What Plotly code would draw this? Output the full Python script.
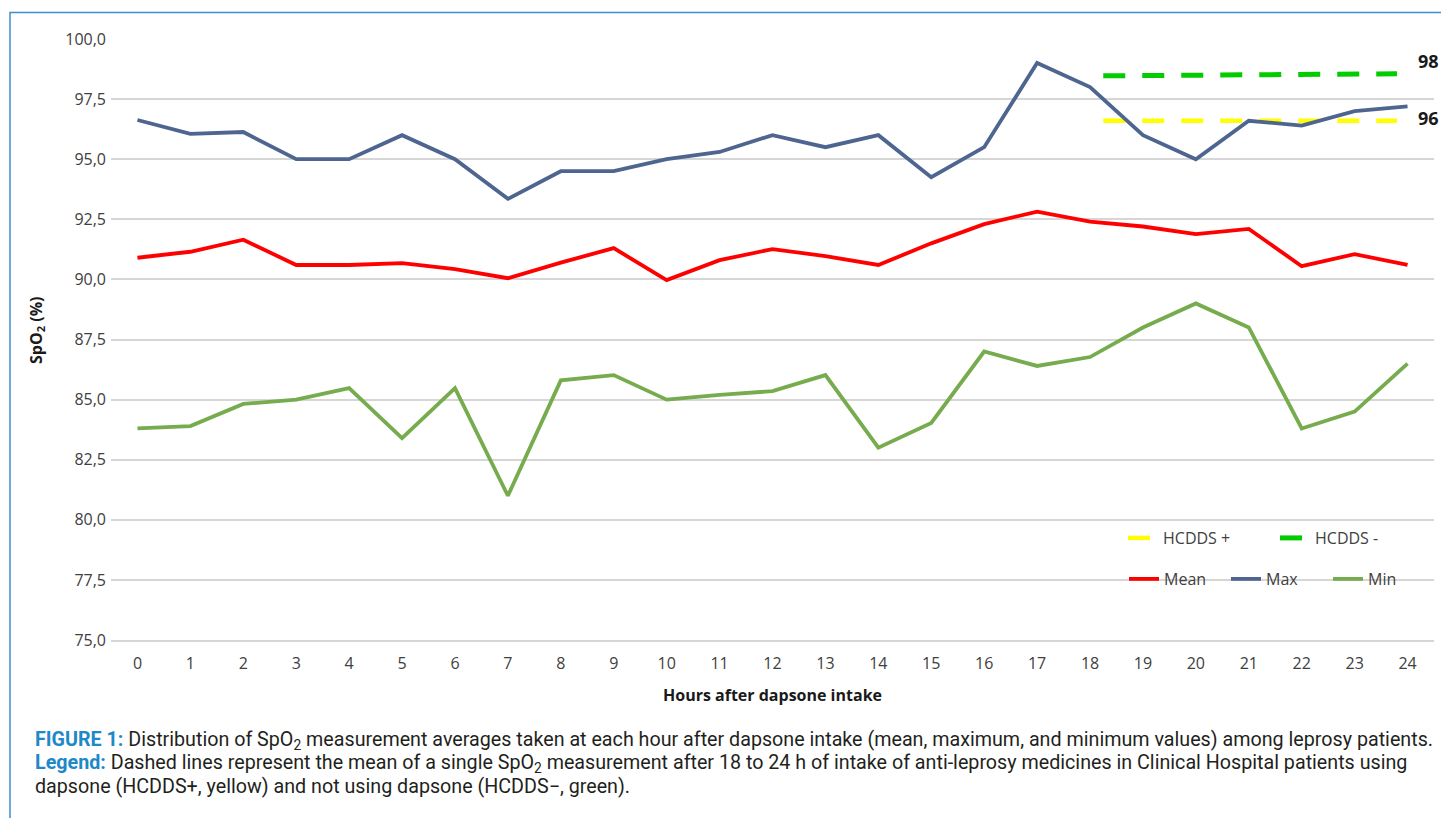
import plotly.graph_objects as go

# ---------------- data ----------------
hours = list(range(25))
max_vals = [96.63, 96.05, 96.13, 95.0, 95.0, 96.0, 95.0, 93.35, 94.5, 94.5, 95.0, 95.3, 96.0,
            95.5, 96.0, 94.25, 95.5, 99.0, 98.0, 96.0, 95.0, 96.6, 96.4, 97.0, 97.2]
mean_vals = [90.9, 91.15, 91.65, 90.6, 90.6, 90.68, 90.43, 90.05, 90.7, 91.3, 89.97, 90.8, 91.26,
             90.97, 90.6, 91.5, 92.3, 92.82, 92.4, 92.2, 91.88, 92.1, 90.55, 91.05, 90.6]
min_vals = [83.8, 83.9, 84.82, 85.0, 85.48, 83.4, 85.48, 81.0, 85.8, 86.02, 85.0, 85.2, 85.35,
            86.02, 83.0, 84.03, 87.0, 86.4, 86.77, 88.0, 89.0, 88.0, 83.8, 84.5, 86.5]

hcdds_x = [18.25, 23.8]
hcdds_pos = [96.6, 96.6]     # HCDDS + (yellow)
hcdds_neg = [98.47, 98.55]   # HCDDS - (green)
hcdds_pos_label = "96"
hcdds_neg_label = "98"

y_ticks = [75 + 2.5 * i for i in range(11)]

FONT = "Open Sans, Noto Sans, DejaVu Sans, sans-serif"
CAP_FONT = "Roboto, Open Sans, sans-serif"
TXT = "#404040"
GRID = "#d6d6d6"

fig = go.Figure()

fig.add_trace(go.Scatter(x=hcdds_x, y=hcdds_pos, mode="lines", name="HCDDS +",
                         line=dict(color="#ffff00", width=4.5, dash="22px,17px"), legend="legend"))
fig.add_trace(go.Scatter(x=hcdds_x, y=hcdds_neg, mode="lines", name="HCDDS -",
                         line=dict(color="#00cc00", width=5, dash="22px,17px"), legend="legend"))
fig.add_trace(go.Scatter(x=hours, y=mean_vals, mode="lines", name="Mean",
                         line=dict(color="#ff0000", width=3.8), legend="legend2"))
fig.add_trace(go.Scatter(x=hours, y=max_vals, mode="lines", name="Max",
                         line=dict(color="#4e6590", width=3.8), legend="legend2"))
fig.add_trace(go.Scatter(x=hours, y=min_vals, mode="lines", name="Min",
                         line=dict(color="#77ac4e", width=3.8), legend="legend2"))

W, H = 1441, 818
L, R, T, B = 111, 7, 39, 178
pw, ph = W - L - R, H - T - B


def px_x(p):
    return (p - L) / pw


def px_y(p):
    return (H - B - p) / ph


annotations = [
    dict(x=hcdds_x[-1], y=hcdds_neg[-1], text="<b>" + hcdds_neg_label + "</b>", showarrow=False,
         xref="x", yref="y", xanchor="center", yanchor="middle", xshift=32, yshift=13,
         font=dict(family=FONT, size=18, color="#1a1a1a")),
    dict(x=hcdds_x[-1], y=hcdds_pos[-1], text="<b>" + hcdds_pos_label + "</b>", showarrow=False,
         xref="x", yref="y", xanchor="center", yanchor="middle", xshift=32, yshift=3,
         font=dict(family=FONT, size=18, color="#1a1a1a")),
    dict(x=px_x(36), y=px_y(330), xref="paper", yref="paper", text="<b>SpO<sub>2</sub> (%)</b>",
         textangle=-90, showarrow=False, xanchor="center", yanchor="middle",
         font=dict(family=FONT, size=16, color="#1a1a1a")),
    dict(x=0.5, y=px_y(695), xref="paper", yref="paper", text="<b>Hours after dapsone intake</b>",
         showarrow=False, xanchor="center", yanchor="middle",
         font=dict(family=FONT, size=16, color="#1a1a1a")),
]

cap_lines = [
    "<b><span style='color:#1e88c8'>FIGURE 1:</span></b> Distribution of SpO<sub>2</sub> measurement averages taken at each hour after dapsone intake (mean, maximum, and minimum values) among leprosy patients.",
    "<b><span style='color:#1e88c8'>Legend:</span></b> Dashed lines represent the mean of a single SpO<sub>2</sub> measurement after 18 to 24 h of intake of anti-leprosy medicines in Clinical Hospital patients using",
    "dapsone (HCDDS+, yellow) and not using dapsone (HCDDS\u2212, green).",
]
for i, t in enumerate(cap_lines):
    annotations.append(dict(x=px_x(33), y=px_y(740 + 23 * i), xref="paper", yref="paper", text=t,
                            xanchor="left", yanchor="middle", showarrow=False, align="left",
                            font=dict(family=CAP_FONT, size=19.7, color="#231f20")))

shapes = [
    dict(type="rect", xref="paper", yref="paper", x0=px_x(10), x1=px_x(1460), y0=px_y(840), y1=px_y(12.5),
         line=dict(color="#3b8fd0", width=1.5), fillcolor="rgba(0,0,0,0)", layer="below"),
]

fig.update_layout(
    width=W, height=H,
    margin=dict(l=L, r=R, t=T, b=B),
    paper_bgcolor="white", plot_bgcolor="white",
    separators=",.",
    font=dict(family=FONT, size=16, color=TXT),
    xaxis=dict(range=[-0.5, 24.5], tickmode="array", tickvals=hours, ticktext=[str(h) for h in hours],
               showgrid=False, zeroline=False, showline=True, linecolor=GRID, linewidth=1.5,
               ticks="", ticklabelstandoff=8, tickfont=dict(family=FONT, size=16, color=TXT)),
    yaxis=dict(range=[75, 100], tickmode="array", tickvals=y_ticks, tickformat=".1f",
               showgrid=True, gridcolor=GRID, gridwidth=1.5, zeroline=False, showline=False,
               ticks="", ticklabelstandoff=4, tickfont=dict(family=FONT, size=16, color=TXT)),
    legend=dict(orientation="h", x=px_x(1123), y=px_y(538), xanchor="left", yanchor="middle",
                entrywidth=107, entrywidthmode="pixels",
                bgcolor="rgba(0,0,0,0)", font=dict(family=FONT, size=16, color=TXT)),
    legend2=dict(orientation="h", x=px_x(1124), y=px_y(579), xanchor="left", yanchor="middle",
                 entrywidth=57, entrywidthmode="pixels",
                 bgcolor="rgba(0,0,0,0)", font=dict(family=FONT, size=16, color=TXT)),
    annotations=annotations,
    shapes=shapes,
    showlegend=True,
)

fig.write_html("out.html", config={"displayModeBar": False},
               post_script="document.body.style.margin='0';")
